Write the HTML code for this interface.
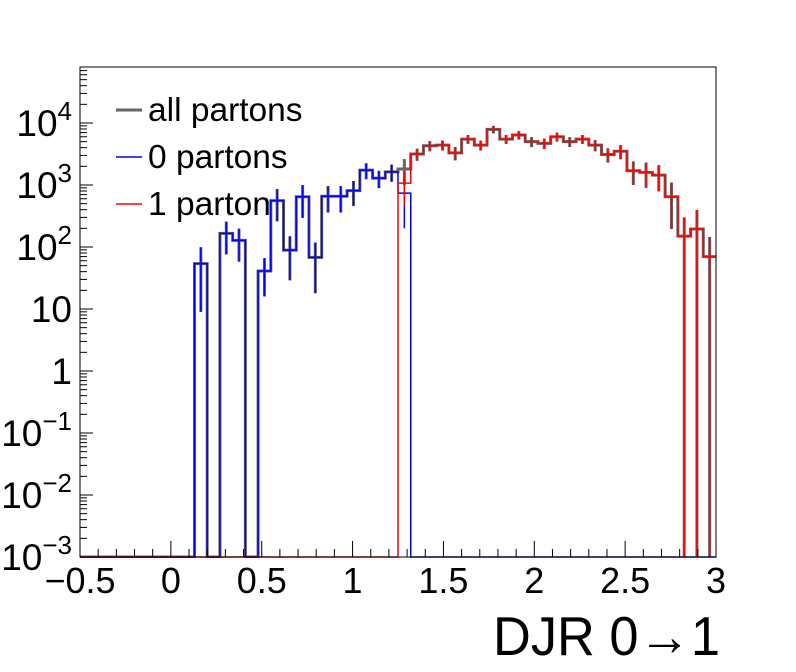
<!DOCTYPE html>
<html><head><meta charset="utf-8">
<style>
html,body{margin:0;padding:0;background:#fff;}
svg{display:block;font-family:"Liberation Sans",sans-serif;}
</style></head>
<body>
<svg id="chart" width="796" height="672" viewBox="0 0 796 672" xmlns="http://www.w3.org/2000/svg">
<rect x="0" y="0" width="796" height="672" fill="#fff"/>
<g id="hists"></g>
<rect x="80" y="67" width="636" height="490" fill="none" stroke="#000" stroke-width="1"/>
<g id="axes"></g>
<g>
  <g>
    <line x1="116" y1="110" x2="142" y2="110" stroke="#666" stroke-width="3"/>
    <text x="148" y="121" font-size="33.5">all partons</text>
  </g>
  <g>
    <line x1="116" y1="157" x2="142" y2="157" stroke="#00f" stroke-width="1.5"/>
    <text x="148" y="168" font-size="33.5">0 partons</text>
  </g>
  <g>
    <line x1="116" y1="204" x2="142" y2="204" stroke="#f00" stroke-width="1.5"/>
    <text x="148" y="215" font-size="33.5">1 parton</text>
  </g>
</g>
<text x="720" y="655" font-size="55" text-anchor="end" textLength="227" lengthAdjust="spacingAndGlyphs">DJR 0→1</text>
</svg>
<script>
// 50 bins from -0.5 to 3.0
const xMin = -0.5, xMax = 3.0, nBins = 50;
const zeroParton = [0,0,0,0,0,0,0,0,0,54,0,166,128,0,41,560,89,645,68,660,660,810,1740,1290,1630,740,
  0,0,0,0,0,0,0,0,0,0,0,0,0,0,0,0,0,0,0,0,0,0,0,0];
const zeroPartonErr = [0,0,0,0,0,0,0,0,0,45,0,90,70,0,25,300,60,350,50,300,300,350,500,400,500,540,
  0,0,0,0,0,0,0,0,0,0,0,0,0,0,0,0,0,0,0,0,0,0,0,0];
const oneParton = [0,0,0,0,0,0,0,0,0,0,0,0,0,0,0,0,0,0,0,0,0,0,0,0,0,1070,
  3160,4300,4400,3300,5500,4400,7900,5500,6400,5000,4700,6000,5000,5500,4400,3100,3500,1700,1600,1440,645,150,195,70];
const oneParton_Err = [0,0,0,0,0,0,0,0,0,0,0,0,0,0,0,0,0,0,0,0,0,0,0,0,0,600,
  700,800,800,800,900,800,1100,900,1000,900,900,1000,900,900,900,800,900,700,700,650,450,150,200,75];
const yTickLabels = ["10⁻³","10⁻²","10⁻¹","1","10","10²","10³","10⁴"];
const xTickLabels = ["−0.5","0","0.5","1","1.5","2","2.5","3"];
const xTickValues = [-0.5,0,0.5,1,1.5,2,2.5,3];

const X0=80,X1=716,Y0=557,decade=62,logMin=-3;
const NS="http://www.w3.org/2000/svg";
function sx(v){return X0+(v-xMin)/(xMax-xMin)*(X1-X0);}
function sy(v){ if(v<=0) return Y0+5; let l=Math.log10(v); if(l<logMin) return Y0+5; return Y0-(l-logMin)*decade;}
function clipY(y){return Math.min(y,Y0);}
const bw=(xMax-xMin)/nBins;
const total=zeroParton.map((v,i)=>v+oneParton[i]);
const totalErr=zeroPartonErr.map((e,i)=>Math.sqrt(e*e+oneParton_Err[i]*oneParton_Err[i]));
const hg=document.getElementById('hists');
function mk(tag,attrs,parent){const e=document.createElementNS(NS,tag);for(const k in attrs)e.setAttribute(k,attrs[k]);parent.appendChild(e);return e;}
function drawHist(vals,errs,color,w,name){
  const g=mk('g',{},hg);
  
  
  let d='M'+X0+','+clipY(sy(vals[0]));
  for(let i=0;i<nBins;i++){
    const xa=sx(xMin+i*bw), xb=sx(xMin+(i+1)*bw), y=clipY(sy(vals[i]));
    d+=' L'+xa+','+y+' L'+xb+','+y;
  }
  const p=mk('path',{d:d,fill:'none',stroke:color,'stroke-width':w,'clip-path':'url(#clp)'},g);
  
  
  for(let i=0;i<nBins;i++){
    if(vals[i]<=0) continue;
    const xc=sx(xMin+(i+0.5)*bw);
    const yt=sy(vals[i]+errs[i]); const yb=clipY(sy(vals[i]-errs[i]));
    const ln=mk('line',{x1:xc,x2:xc,y1:yt,y2:yb,stroke:color,'stroke-width':w},g);
    
    
  }
}
const defs=mk('defs',{},hg);
const cp=mk('clipPath',{id:'clp'},defs);
mk('rect',{x:X0,y:67,width:X1-X0,height:Y0-67+1},cp);
drawHist(total,totalErr,'#666',3,'all-partons-hist');
drawHist(zeroParton,zeroPartonErr,'#00f',1.5,'zero-partons-hist');
drawHist(oneParton,oneParton_Err,'#f00',1.5,'one-parton-hist');

const ag=document.getElementById('axes');
for(let k=0;k<yTickLabels.length;k++){
  const y=Y0-k*decade;
  const t=mk('line',{x1:X0,x2:X0+13,y1:y,y2:y,stroke:'#000','stroke-width':1},ag);
  
  
  const lab=yTickLabels[k];
  const tx=mk('text',{x:X0-8,y:y+13,'font-size':37,'text-anchor':'end'},ag);
  
  
  if(lab.startsWith('10')&&lab.length>2){
    tx.textContent='10';
    const s=document.createElementNS(NS,'tspan');
    s.setAttribute('dy','-16');s.setAttribute('font-size','26');
    s.textContent=lab.slice(2).replace('⁻','−').replace(/[⁰¹²³⁴]/g,c=>'01234'["⁰¹²³⁴".indexOf(c)]);
    tx.appendChild(s);
  } else tx.textContent=lab;
}
for(let k=0;k<8;k++){
  for(let m=2;m<=9;m++){
    const y=Y0-(k+Math.log10(m))*decade;
    if(y<67) break;
    const t=mk('line',{x1:X0,x2:X0+7,y1:y,y2:y,stroke:'#000','stroke-width':1},ag);
    
    
  }
}
for(let i=0;i<=35;i++){
  const v=xMin+i*0.1; const x=sx(v); const major=(i%5===0);
  const t=mk('line',{x1:x,x2:x,y1:Y0,y2:Y0-(major?16:8),stroke:'#000','stroke-width':1},ag);
  
  
}
for(let i=0;i<xTickValues.length;i++){
  const tx=mk('text',{x:sx(xTickValues[i]),y:593,'font-size':36,'text-anchor':'middle'},ag);
  
  
  tx.textContent=xTickLabels[i];
}
</script>
</body></html>
